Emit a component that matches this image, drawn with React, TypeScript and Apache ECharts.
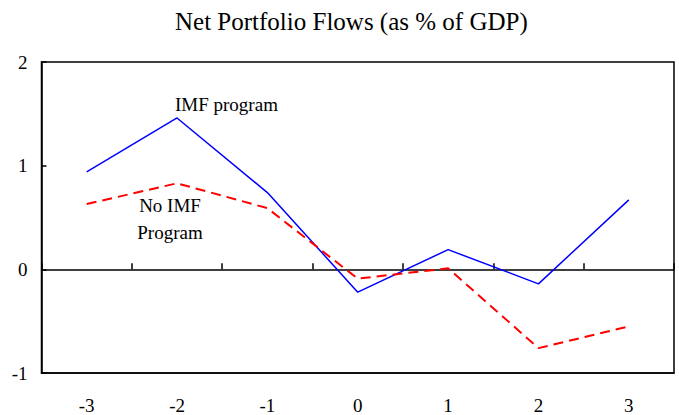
import React, { useEffect, useRef } from "react";
import * as echarts from "echarts";

const categories = ["-3", "-2", "-1", "0", "1", "2", "3"];
const imfProgram = [0.94, 1.46, 0.74, -0.22, 0.19, -0.14, 0.67];
const noImfProgram = [0.63, 0.83, 0.59, -0.09, 0.01, -0.76, -0.55];
const titleText = "Net Portfolio Flows (as % of GDP)";

const FONT = "'Liberation Serif', 'Times New Roman', serif";

export default function App() {
  const ref = useRef<HTMLDivElement>(null);
  useEffect(() => {
    if (!ref.current) return;
    const chart = echarts.init(ref.current, null, { renderer: "svg" });
    chart.setOption({
      animation: false,
      backgroundColor: "#fff",
      title: {
        text: titleText,
        left: 170,
        top: 4,
        textStyle: { fontFamily: FONT, fontSize: 25, fontWeight: "normal", color: "#000" },
      },
      grid: {
        left: 41.5,
        right: 5,
        top: 62,
        bottom: 42,
        show: true,
        borderColor: "#000",
        borderWidth: 1.5,
        backgroundColor: "transparent",
      },
      xAxis: [
        {
          type: "category",
          data: categories,
          position: "bottom",
          boundaryGap: true,
          axisLine: { onZero: false, lineStyle: { color: "#000", width: 1.5 } },
          axisTick: { show: false },
          axisLabel: { fontFamily: FONT, fontSize: 19, color: "#000", margin: 23 },
          splitLine: { show: false },
        },
        {
          type: "category",
          data: categories,
          position: "bottom",
          boundaryGap: true,
          axisLine: { onZero: true, onZeroAxisIndex: 0, lineStyle: { color: "#000", width: 1.5 } },
          axisTick: { show: true, inside: true, length: 6, lineStyle: { color: "#000", width: 1.5 } },
          axisLabel: { show: false },
          splitLine: { show: false },
        },
      ],
      yAxis: {
        type: "value",
        min: -1,
        max: 2,
        interval: 1,
        axisLine: { show: true, lineStyle: { color: "#000", width: 1.5 } },
        axisTick: { show: true, inside: true, length: 5, lineStyle: { color: "#000", width: 1.5 } },
        axisLabel: { fontFamily: FONT, fontSize: 19, color: "#000", margin: 14 },
        splitLine: { show: false },
      },
      series: [
        {
          name: "IMF program",
          type: "line",
          data: imfProgram,
          xAxisIndex: 0,
          symbol: "none",
          lineStyle: { color: "#0000ff", width: 1.5 },
        },
        {
          name: "No IMF Program",
          type: "line",
          data: noImfProgram,
          xAxisIndex: 0,
          symbol: "none",
          lineStyle: { color: "#ff0000", width: 2, type: [10, 6] },
        },
      ],
      graphic: [
        {
          type: "text",
          x: 175,
          y: 104,
          style: { text: "IMF program", font: `19px ${FONT}`, fill: "#000", verticalAlign: "middle" },
        },
        {
          type: "text",
          x: 170,
          y: 205,
          style: { text: "No IMF", font: `19px ${FONT}`, fill: "#000", align: "center", verticalAlign: "middle" },
        },
        {
          type: "text",
          x: 170,
          y: 232,
          style: { text: "Program", font: `19px ${FONT}`, fill: "#000", align: "center", verticalAlign: "middle" },
        },
      ],
    });
    return () => chart.dispose();
  }, []);
  return (
    <div
      ref={ref}
      style={{ position: "fixed", left: 0, top: 0, width: 679, height: 415 }}
    />
  );
}
